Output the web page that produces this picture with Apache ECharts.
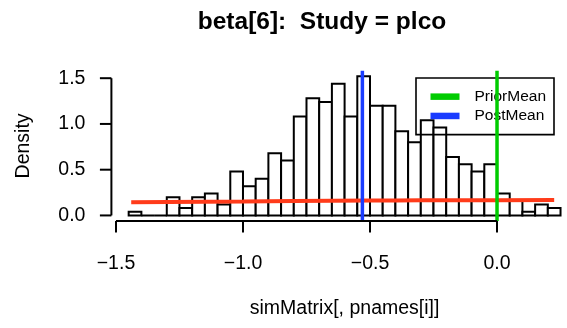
<!DOCTYPE html>
<html>
<head>
<meta charset="utf-8">
<script src="https://cdn.jsdelivr.net/npm/echarts@6/dist/echarts.min.js"></script>
<style>
  html, body { margin: 0; padding: 0; background: #fff; }
  #chart { width: 567px; height: 328px; }
</style>
</head>
<body>
<div id="chart"></div>
<script>
// Histogram bin edges (width 0.05) and the density of each bin
const breaks = [-1.45, -1.40, -1.35, -1.30, -1.25, -1.20, -1.15, -1.10, -1.05, -1.00,
                -0.95, -0.90, -0.85, -0.80, -0.75, -0.70, -0.65, -0.60, -0.55, -0.50,
                -0.45, -0.40, -0.35, -0.30, -0.25, -0.20, -0.15, -0.10, -0.05, 0.00,
                 0.05,  0.10,  0.15,  0.20,  0.25];
const densities = [0.04, 0.00, 0.00, 0.20, 0.08, 0.20, 0.24, 0.12, 0.48, 0.32,
                   0.40, 0.68, 0.60, 1.08, 1.28, 1.24, 1.44, 1.08, 1.52, 1.20,
                   1.20, 0.92, 0.80, 1.04, 0.96, 0.64, 0.56, 0.48, 0.56, 0.24,
                   0.16, 0.04, 0.12, 0.08];

// Prior density curve over the sampled range
const priorX = [-1.44, -1.00, -0.80, -0.50, -0.30, 0.00, 0.225];
const priorY = [0.143, 0.152, 0.157, 0.162, 0.165, 0.167, 0.168];

// Reference lines
const priorMean = 0.0;
const postMean = -0.53;

// Tick positions and labels
const xTicks = [-1.5, -1.0, -0.5, 0.0];
const yTicks = [0.0, 0.5, 1.0, 1.5];

const titleText = 'beta[6]:  Study = plco';
const xName = 'simMatrix[, pnames[i]]';
const yName = 'Density';

// Plot region limits (data range padded by 4% on each side)
const xLo = breaks[0], xHi = breaks[breaks.length - 1];
const xPad = (xHi - xLo) * 0.04;
const xMin = xLo - xPad, xMax = xHi + xPad;
const yTop = Math.max(...densities);
const yMin = -yTop * 0.04, yMax = yTop * 1.04;

const FONT = 'Liberation Sans, Arial, Helvetica, sans-serif';
const C_PRIOR_CURVE = '#FF3B1A';
const C_PRIOR_MEAN = '#00CC00';
const C_POST_MEAN = '#1A3CFF';
const TICK_LEN = 11.5;

const binData = densities.map((d, i) => [breaks[i], breaks[i + 1], d]);
const fmtMinus = v => (v < 0 ? '\u2212' : '') + Math.abs(v).toFixed(1);

const chart = echarts.init(document.getElementById('chart'), null, { renderer: 'canvas' });

chart.setOption({
  animation: false,
  backgroundColor: '#ffffff',
  textStyle: { fontFamily: FONT },
  title: {
    text: titleText,
    left: 317,
    top: 5,
    textAlign: 'center',
    textStyle: { fontFamily: FONT, fontSize: 24.5, fontWeight: 'bold', color: '#000' }
  },
  legend: {
    data: ['PriorMean', 'PostMean'],
    orient: 'vertical',
    left: 416,
    top: 78,
    icon: 'rect',
    itemWidth: 29,
    itemHeight: 6.5,
    itemGap: 0,
    padding: [9, 8, 9, 14.5],
    borderColor: '#000',
    borderWidth: 1.6,
    selectedMode: false,
    textStyle: { fontFamily: FONT, fontSize: 15.5, color: '#000', lineHeight: 19.3, padding: [0, 0, 0, 10] }
  },
  grid: { left: 111.4, top: 70.8, width: 466.4, height: 150.2, containLabel: false, outerBoundsMode: 'none' },
  xAxis: {
    type: 'value',
    min: xMin,
    max: xMax,
    splitLine: { show: false },
    axisLine: { show: false },
    axisTick: { show: false },
    axisLabel: { customValues: xTicks, formatter: fmtMinus, margin: 33, color: '#000', fontSize: 19.5, fontFamily: FONT },
    name: xName,
    nameLocation: 'middle',
    nameGap: 78,
    nameTextStyle: { color: '#000', fontSize: 19.5, fontFamily: FONT }
  },
  yAxis: {
    type: 'value',
    min: yMin,
    max: yMax,
    splitLine: { show: false },
    axisLine: { show: false },
    axisTick: { show: false },
    axisLabel: { customValues: yTicks, formatter: v => v.toFixed(1), margin: 26, color: '#000', fontSize: 19.5, fontFamily: FONT },
    name: yName,
    nameLocation: 'middle',
    nameRotate: 90,
    nameGap: 78,
    nameTextStyle: { color: '#000', fontSize: 19.5, fontFamily: FONT }
  },
  series: [
    {
      name: 'hist',
      type: 'custom',
      data: binData,
      encode: { x: [0, 1], y: 2 },
      z: 2,
      renderItem: function (params, api) {
        const p0 = api.coord([api.value(0), 0]);
        const p1 = api.coord([api.value(1), api.value(2)]);
        return {
          type: 'rect',
          shape: { x: p0[0], y: p1[1], width: p1[0] - p0[0], height: p0[1] - p1[1] },
          style: { fill: '#ffffff', stroke: '#000000', lineWidth: 2 }
        };
      }
    },
    {
      name: 'prior',
      type: 'line',
      data: priorX.map((x, i) => [x, priorY[i]]),
      smooth: true,
      showSymbol: false,
      z: 3,
      lineStyle: { color: C_PRIOR_CURVE, width: 4 }
    },
    {
      name: 'PriorMean',
      type: 'line',
      data: [[priorMean, yMin], [priorMean, yMax]],
      showSymbol: false,
      color: C_PRIOR_MEAN,
      z: 4,
      lineStyle: { color: C_PRIOR_MEAN, width: 3.5 }
    },
    {
      name: 'PostMean',
      type: 'line',
      data: [[postMean, yMin], [postMean, yMax]],
      showSymbol: false,
      color: C_POST_MEAN,
      z: 4,
      lineStyle: { color: C_POST_MEAN, width: 3.5 }
    },
    {
      // bottom axis line spanning the tick range
      name: 'xAxisLine',
      type: 'line',
      data: [[xTicks[0], yMin], [xTicks[xTicks.length - 1], yMin]],
      showSymbol: false,
      clip: false,
      silent: true,
      z: 5,
      lineStyle: { color: '#000', width: 2 }
    },
    {
      // left axis line spanning the tick range
      name: 'yAxisLine',
      type: 'line',
      data: [[xMin, yTicks[0]], [xMin, yTicks[yTicks.length - 1]]],
      showSymbol: false,
      clip: false,
      silent: true,
      z: 5,
      lineStyle: { color: '#000', width: 2 }
    },
    {
      // tick marks below the bottom axis
      name: 'xTickMarks',
      type: 'custom',
      data: xTicks,
      clip: false,
      silent: true,
      z: 5,
      renderItem: function (params, api) {
        const p = api.coord([api.value(0), yMin]);
        return {
          type: 'line',
          shape: { x1: p[0], y1: p[1], x2: p[0], y2: p[1] + TICK_LEN },
          style: { stroke: '#000', lineWidth: 2 }
        };
      }
    },
    {
      // tick marks left of the side axis
      name: 'yTickMarks',
      type: 'custom',
      data: yTicks.map(v => [xMin, v]),
      clip: false,
      silent: true,
      z: 5,
      renderItem: function (params, api) {
        const p = api.coord([api.value(0), api.value(1)]);
        return {
          type: 'line',
          shape: { x1: p[0], y1: p[1], x2: p[0] - TICK_LEN, y2: p[1] },
          style: { stroke: '#000', lineWidth: 2 }
        };
      }
    }
  ]
});
</script>
</body>
</html>
